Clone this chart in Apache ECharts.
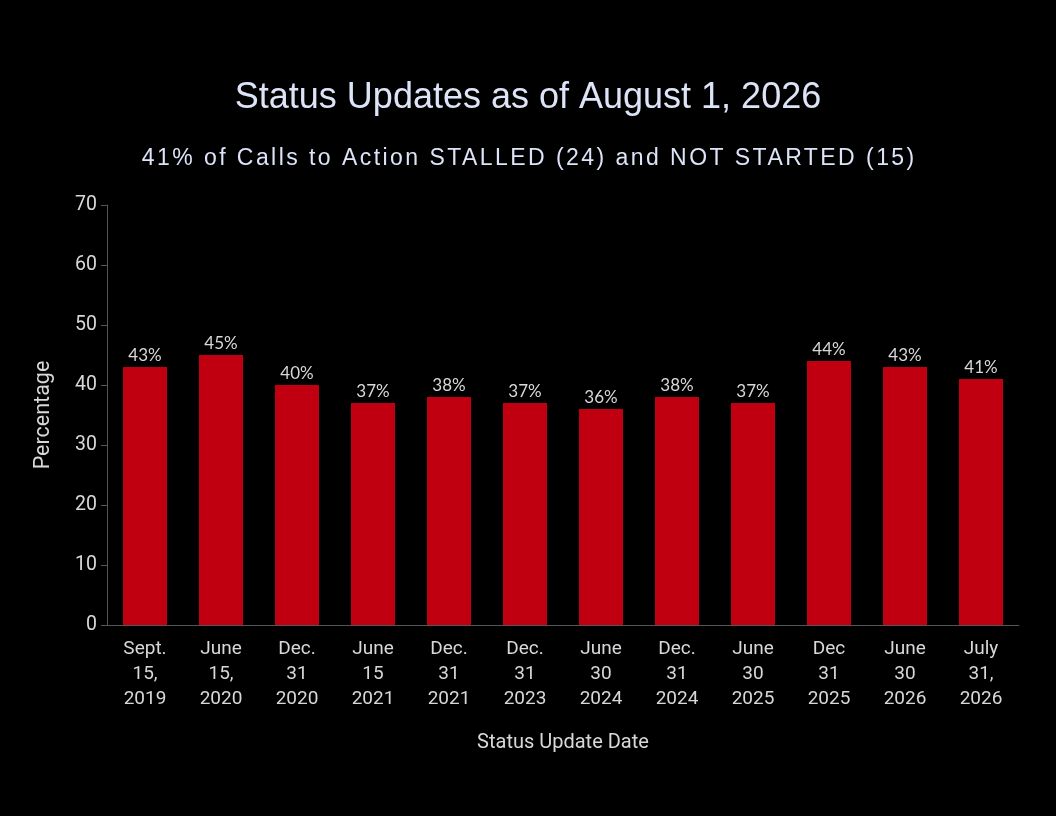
<!DOCTYPE html>
<html><head><meta charset="utf-8">
<script src="https://cdn.jsdelivr.net/npm/echarts@6/dist/echarts.min.js"></script>
<style>html,body{margin:0;padding:0;background:#000;}#c{width:1056px;height:816px;}</style>
</head><body><div id="c"></div>
<script>
const categories = ["Sept.\n15,\n2019","June\n15,\n2020","Dec.\n31\n2020","June\n15\n2021","Dec.\n31\n2021","Dec.\n31\n2023","June\n30\n2024","Dec.\n31\n2024","June\n30\n2025","Dec\n31\n2025","June\n30\n2026","July\n31,\n2026"];
const values = [43,45,40,37,38,37,36,38,37,44,43,41];
const titleText = "Status Updates as of August 1, 2026";
const subtitleText = "41% of Calls to Action STALLED (24) and NOT STARTED (15)";

// letter-spaced subtitle, as in the reference
const origFill = CanvasRenderingContext2D.prototype.fillText;
CanvasRenderingContext2D.prototype.fillText = function(t, x, y, m) {
  if (t === subtitleText && 'letterSpacing' in this) {
    const prev = this.letterSpacing;
    this.letterSpacing = '2.45px';
    if (m === undefined) origFill.call(this, t, x + 1.2, y); else origFill.call(this, t, x + 1.2, y, m);
    this.letterSpacing = prev;
  } else {
    if (m === undefined) origFill.call(this, t, x, y); else origFill.call(this, t, x, y, m);
  }
};

const chart = echarts.init(document.getElementById('c'));
chart.setOption({
  backgroundColor:'#000',
  animation:false,
  title:[
    {text:titleText,left:'center',top:75,textStyle:{color:'#dde4f8',fontFamily:'Liberation Sans',fontSize:36,fontWeight:'normal'}},
    {text:subtitleText,left:'center',top:142,textStyle:{color:'#dde4f8',fontFamily:'Liberation Sans',fontSize:23,fontWeight:'normal'}}
  ],
  grid:{left:107,right:37,top:205,bottom:191,containLabel:false},
  xAxis:{type:'category',data:categories,
    name:'Status Update Date',nameLocation:'middle',nameGap:108,
    nameTextStyle:{color:'#d8d8d8',fontFamily:'Roboto',fontSize:20},
    axisLine:{lineStyle:{color:'#555'}},
    axisTick:{alignWithLabel:true,lineStyle:{color:'#555'},length:6},
    axisLabel:{color:'#d8d8d8',fontFamily:'Roboto',fontSize:19,lineHeight:25,margin:12,interval:0}},
  yAxis:{type:'value',min:0,max:70,interval:10,
    name:'Percentage',nameLocation:'middle',nameGap:52,
    nameTextStyle:{color:'#d8d8d8',fontFamily:'Roboto',fontSize:21.5},
    axisLine:{show:true,lineStyle:{color:'#555'}},
    axisTick:{show:true,lineStyle:{color:'#555'},length:6},
    splitLine:{show:false},
    axisLabel:{color:'#d8d8d8',fontFamily:'Roboto',fontSize:19.5,margin:10}},
  series:[{type:'bar',data:values,barWidth:44,
    itemStyle:{color:'#c00010'},
    label:{show:true,position:'top',formatter:'{c}%',color:'#d8d8d8',fontFamily:'Lato',fontSize:17,distance:3}}]
});
</script></body></html>
